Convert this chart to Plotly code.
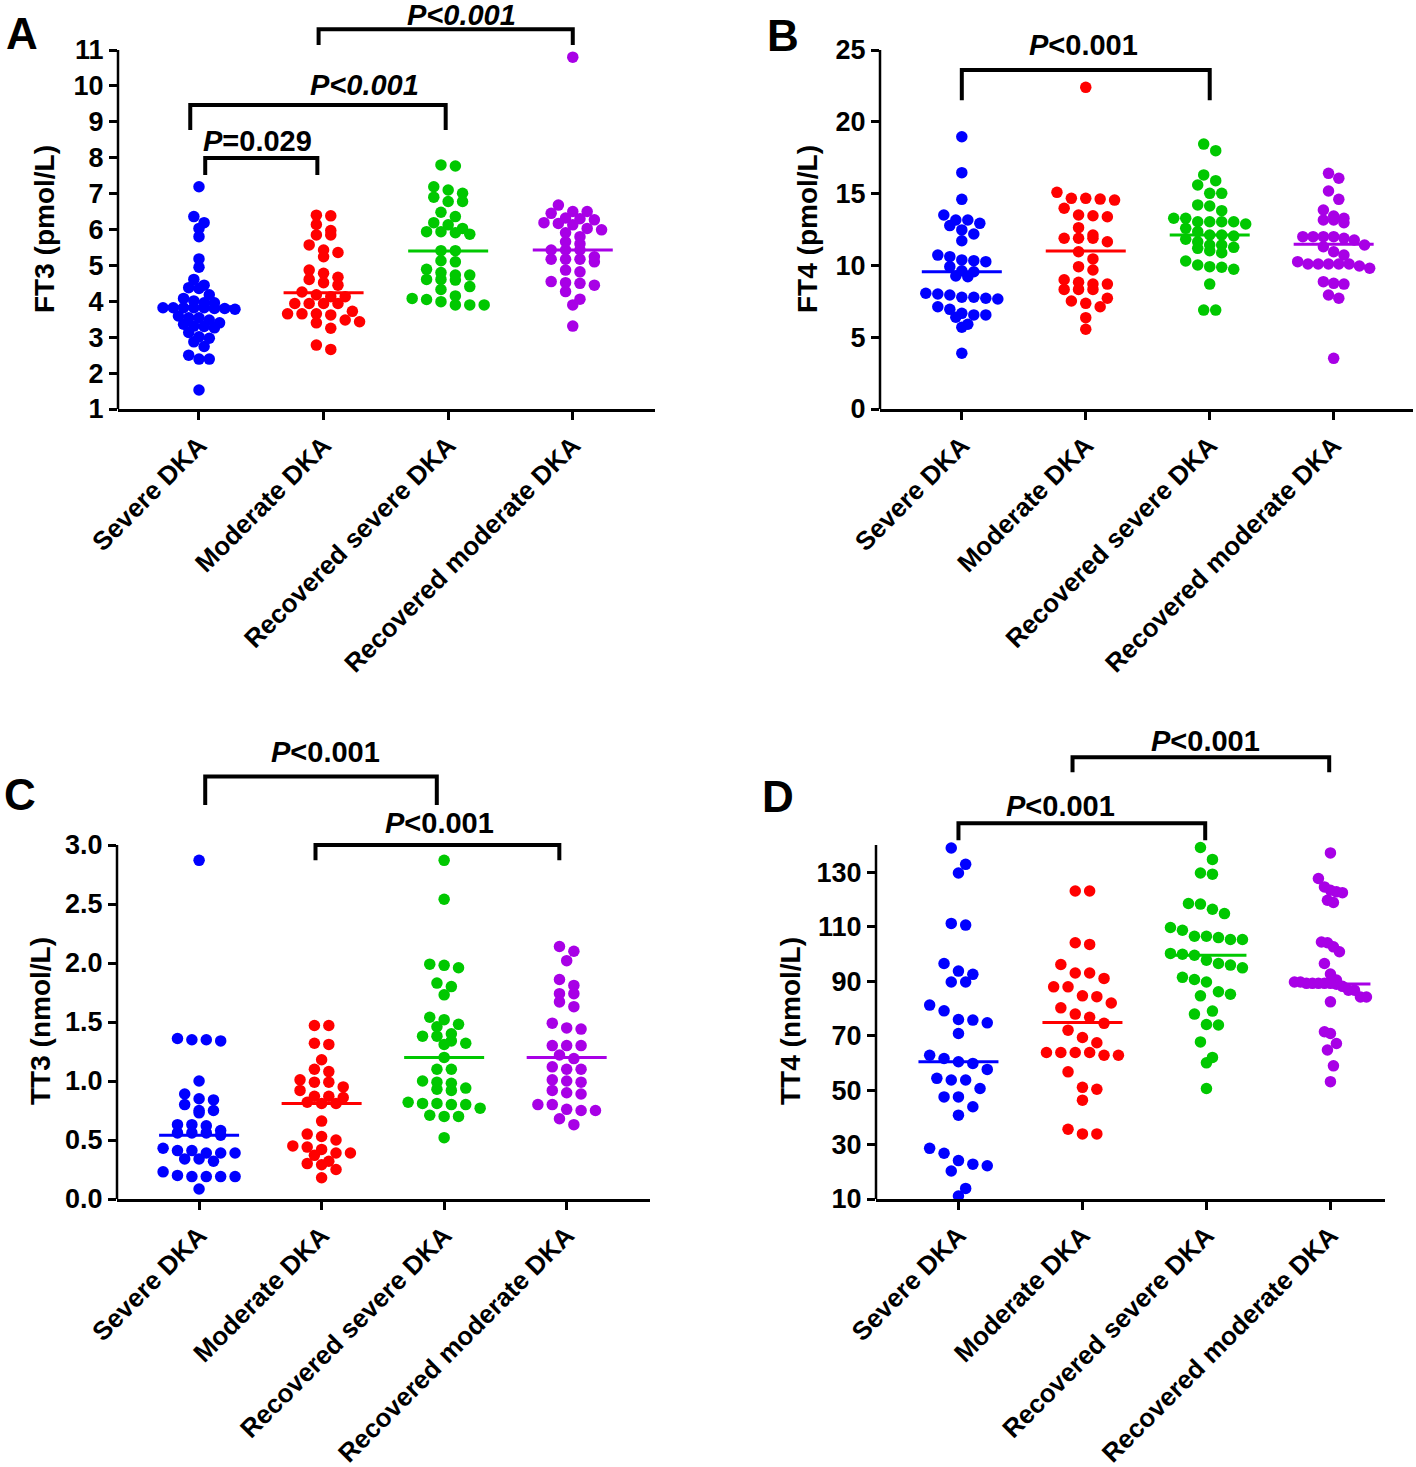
import numpy as np
import plotly.graph_objects as go

W, H = 1416, 1467
FONT = "Arial, Liberation Sans, sans-serif"

groups = ["Severe DKA", "Moderate DKA", "Recovered severe DKA", "Recovered moderate DKA"]
colors = ["#0000FF", "#FF0000", "#00C800", "#A800E6"]

# A: FT3 (pmol/L)
ft3_severe = [7.19, 6.36, 6.19, 6.03, 5.80, 5.18, 4.95, 4.61, 4.45, 4.38, 4.36, 4.18, 4.08, 4.01,
              3.96, 3.96, 3.82, 3.82, 3.80, 3.82, 3.82, 3.78, 3.80, 3.82, 3.59, 3.54, 3.54, 3.48,
              3.40, 3.30, 3.26, 3.31, 3.36, 3.13, 2.97, 3.01, 2.87, 2.74, 2.50, 2.39, 2.39, 1.53]
ft3_moderate = [6.40, 6.38, 6.14, 5.97, 5.85, 5.85, 5.57, 5.43, 5.36, 5.24, 4.87, 4.78, 4.67, 4.61,
                4.52, 4.45, 4.26, 4.18, 4.13, 4.13, 3.94, 3.94, 3.94, 3.94, 3.72, 3.65, 3.65, 3.62,
                3.65, 3.48, 3.43, 3.40, 3.25, 2.78, 2.66]
ft3_rec_severe = [7.80, 7.77, 7.19, 7.10, 7.01, 6.90, 6.78, 6.78, 6.48, 6.36, 6.19, 6.13, 6.03, 5.94,
                  5.94, 5.91, 5.87, 5.41, 5.41, 5.13, 5.10, 4.89, 4.80, 4.73, 4.73, 4.61, 4.61, 4.59,
                  4.41, 4.33, 4.15, 4.08, 4.05, 3.99, 3.90, 3.90, 3.90]
ft3_rec_moderate = [10.80, 6.68, 6.50, 6.50, 6.45, 6.32, 6.30, 6.27, 6.19, 6.17, 6.13, 5.99, 6.03,
                    5.91, 5.80, 5.66, 5.60, 5.43, 5.43, 5.43, 5.17, 5.10, 5.17, 5.17, 5.24, 4.82,
                    4.87, 4.52, 4.55, 4.45, 4.50, 4.27, 4.06, 3.90, 3.31]
ft3_median = [3.85, 4.24, 5.40, 5.43]
ft3_ticks = [1, 2, 3, 4, 5, 6, 7, 8, 9, 10, 11]
ft3_p = ["<i>P</i>=0.029", "<i>P&lt;0.001</i>", "<i>P&lt;0.001</i>"]

# B: FT4 (pmol/L)
ft4_severe = [18.96, 16.46, 14.60, 13.51, 13.16, 13.16, 12.93, 12.77, 12.47, 12.19, 11.72, 10.72,
              10.61, 10.38, 10.33, 10.26, 9.91, 9.63, 9.56, 9.26, 9.21, 8.06, 8.01, 7.94, 7.78,
              7.78, 7.71, 7.66, 7.12, 6.94, 6.66, 6.55, 6.55, 6.39, 5.90, 5.69, 3.88]
ft4_moderate = [22.40, 15.09, 14.67, 14.62, 14.67, 14.55, 13.98, 13.46, 13.39, 13.51, 12.63, 11.89,
                11.65, 11.89, 11.89, 12.12, 10.95, 10.45, 9.91, 9.68, 8.70, 8.33, 8.33, 8.82, 8.70,
                8.33, 9.00, 7.52, 7.71, 7.36, 7.12, 6.36, 5.55]
ft4_rec_severe = [18.45, 17.99, 16.30, 15.90, 15.60, 15.02, 15.02, 14.21, 14.14, 13.81, 13.28, 13.04,
                  12.88, 13.04, 13.04, 13.04, 13.28, 12.35, 12.12, 12.05, 12.12, 12.58, 11.82, 11.42,
                  11.65, 11.42, 10.88, 11.02, 11.19, 11.26, 9.91, 10.03, 9.73, 9.87, 10.31, 8.70,
                  6.89, 6.89]
ft4_rec_moderate = [16.41, 16.07, 15.18, 14.60, 13.86, 13.28, 13.16, 13.44, 12.97, 13.16, 12.00,
                    12.00, 11.89, 11.77, 12.00, 12.00, 11.30, 11.42, 10.72, 10.95, 10.10, 10.10,
                    9.96, 10.10, 10.10, 10.10, 10.26, 9.80, 8.75, 8.70, 8.87, 7.94, 7.71, 3.53]
ft4_median = [9.56, 11.00, 12.12, 11.47]
ft4_ticks = [0, 5, 10, 15, 20, 25]
ft4_p = ["<i>P</i>&lt;0.001"]

# C: TT3 (nmol/L)
tt3_severe = [2.87, 1.35, 1.36, 1.34, 1.35, 1.00, 0.84, 0.85, 0.89, 0.80, 0.75, 0.73, 0.75, 0.63,
              0.63, 0.62, 0.56, 0.56, 0.58, 0.56, 0.54, 0.39, 0.39, 0.43, 0.41, 0.39, 0.41, 0.34,
              0.32, 0.34, 0.23, 0.19, 0.20, 0.19, 0.19, 0.19, 0.085]
tt3_moderate = [1.47, 1.47, 1.31, 1.32, 1.18, 1.10, 1.08, 0.99, 1.01, 0.95, 0.99, 0.92, 0.87, 0.87,
                0.86, 0.82, 0.81, 0.81, 0.66, 0.53, 0.55, 0.50, 0.44, 0.42, 0.45, 0.39, 0.37, 0.39,
                0.29, 0.32, 0.25, 0.30, 0.18]
tt3_rec_severe = [2.87, 2.54, 1.99, 1.98, 1.96, 1.80, 1.83, 1.73, 1.54, 1.52, 1.46, 1.48, 1.40, 1.38,
                  1.38, 1.32, 1.34, 1.31, 1.20, 1.10, 1.10, 1.00, 0.92, 0.93, 0.94, 0.98, 0.99, 0.82,
                  0.77, 0.80, 0.80, 0.81, 0.81, 0.70, 0.71, 0.70, 0.52]
tt3_rec_moderate = [2.14, 2.10, 2.02, 1.86, 1.81, 1.74, 1.74, 1.67, 1.63, 1.49, 1.44, 1.45, 1.30,
                    1.30, 1.30, 1.22, 1.19, 1.12, 1.10, 1.10, 1.00, 1.01, 0.99, 0.92, 0.89, 0.90,
                    0.80, 0.76, 0.80, 0.75, 0.75, 0.68, 0.63]
tt3_median = [0.54, 0.81, 1.20, 1.20]
tt3_ticks = [0.0, 0.5, 1.0, 1.5, 2.0, 2.5, 3.0]
tt3_p = ["<i>P</i>&lt;0.001", "<i>P</i>&lt;0.001"]

# D: TT4 (nmol/L)
tt4_severe = [138.9, 132.9, 129.7, 111.2, 110.6, 96.5, 89.7, 93.7, 89.7, 92.5, 81.2, 79.1, 75.7,
              74.7, 75.9, 70.8, 60.4, 61.6, 59.8, 62.8, 57.6, 53.7, 53.7, 54.3, 50.6, 47.5, 43.9,
              47.5, 40.8, 26.8, 28.6, 22.8, 20.3, 22.2, 24.1, 13.9, 11.1]
tt4_moderate = [123.1, 123.1, 103.5, 104.1, 96.1, 93.0, 93.0, 91.0, 87.9, 87.9, 84.6, 84.3, 80.2,
                82.0, 77.9, 74.5, 76.7, 72.0, 69.3, 67.4, 63.8, 62.8, 63.8, 63.8, 62.8, 63.8, 56.7,
                50.3, 51.0, 46.3, 33.9, 35.6, 33.9]
tt4_rec_severe = [139.1, 134.7, 129.3, 129.7, 118.5, 116.4, 114.8, 118.3, 109.7, 108.7, 106.5, 106.0,
                  105.3, 105.3, 106.5, 99.5, 99.9, 100.2, 97.7, 95.9, 96.5, 94.9, 90.6, 91.4, 89.7,
                  86.1, 85.2, 84.6, 79.0, 77.9, 73.9, 74.1, 67.7, 62.0, 60.0, 50.6]
tt4_rec_moderate = [137.1, 127.7, 124.6, 123.4, 122.8, 122.5, 119.7, 118.9, 104.1, 104.4, 100.8,
                    102.6, 96.5, 92.6, 89.2, 89.7, 89.2, 90.4, 89.2, 89.2, 88.9, 89.2, 89.7, 88.1,
                    86.7, 84.2, 82.4, 84.2, 86.7, 70.8, 71.4, 67.1, 64.7, 58.9, 53.1]
tt4_median = [60.4, 74.8, 99.5, 89.0]
tt4_ticks = [10, 30, 50, 70, 90, 110, 130]
tt4_p = ["<i>P</i>&lt;0.001", "<i>P</i>&lt;0.001"]


def swarm(vals, ppx, ppy, rowh, span=72.0, maxgap=14.4):
    # GraphPad-like scatter: values close in height share a row, spread symmetrically
    vals = np.asarray(vals, float)
    order = np.argsort(-vals, kind="stable")
    rows, cur = [], [order[0]]
    for i in order[1:]:
        if (vals[cur[0]] - vals[i]) * ppy < rowh:
            cur.append(i)
        else:
            rows.append(cur)
            cur = [i]
    rows.append(cur)
    maxn = max(len(r) for r in rows)
    gap = maxgap if maxn < 2 else min(maxgap, span / (maxn - 1))
    off = np.zeros(len(vals))
    for r in rows:
        n = len(r)
        for j, i in enumerate(r):
            off[i] = (j - (n - 1) / 2) * gap / ppx
    return off


panels = [
    dict(letter="A", data=[ft3_severe, ft3_moderate, ft3_rec_severe, ft3_rec_moderate],
         med=ft3_median, title="FT3 (pmol/L)", ticks=ft3_ticks, fmt="{:d}", p=ft3_p,
         px=(118, 655), py=(409, 50), ax=(1, 11), top=12.3, xr=(-0.65, 3.66), rowh=8,
         letter_xy=(22, 33), title_xy=(45, 229),
         brackets=[((0.05, 0.95), (7.52, 7.99), (0.47, 8.47)),
                   ((-0.07, 1.98), (8.77, 9.47), (1.33, 10.03)),
                   ((0.96, 3.0), (11.14, 11.58), (2.11, 11.98))]),
    dict(letter="B", data=[ft4_severe, ft4_moderate, ft4_rec_severe, ft4_rec_moderate],
         med=ft4_median, title="FT4 (pmol/L)", ticks=ft4_ticks, fmt="{:d}", p=ft4_p,
         px=(880, 1413), py=(409, 50), ax=(0, 25), top=27.0, xr=(-0.66, 3.64), rowh=9,
         letter_xy=(783, 36), title_xy=(808, 229),
         brackets=[((0.0, 2.0), (21.5, 23.6), (0.98, 25.35))]),
    dict(letter="C", data=[tt3_severe, tt3_moderate, tt3_rec_severe, tt3_rec_moderate],
         med=tt3_median, title="TT3 (nmol/L)", ticks=tt3_ticks, fmt="{:.1f}", p=tt3_p,
         px=(117, 650), py=(1199, 845), ax=(0, 3.0), top=3.95, xr=(-0.67, 3.68), rowh=8,
         letter_xy=(20, 794), title_xy=(40, 1021),
         brackets=[((0.05, 1.94), (3.34, 3.58), (1.03, 3.79)),
                   ((0.95, 2.94), (2.87, 3.0), (1.96, 3.19))]),
    dict(letter="D", data=[tt4_severe, tt4_moderate, tt4_rec_severe, tt4_rec_moderate],
         med=tt4_median, title="TT4 (nmol/L)", ticks=tt4_ticks, fmt="{:d}", p=tt4_p,
         px=(876, 1385), py=(1199, 845), ax=(10, 140), top=185, xr=(-0.665, 3.44), rowh=18,
         letter_xy=(778, 796), title_xy=(790, 1021),
         brackets=[((0.0, 1.99), (141.7, 148.0), (0.82, 154.2)),
                   ((0.92, 2.99), (166.7, 172.2), (1.99, 178.1))]),
]

fig = go.Figure()
shapes, annotations = [], []
tickfont = dict(family=FONT, size=27, color="black", weight="bold")
catfont = dict(family=FONT, size=26, color="black", weight="bold")

for k, p in enumerate(panels):
    n = "" if k == 0 else str(k + 1)
    xid, yid = "x" + n, "y" + n
    ppy = (p["py"][0] - p["py"][1]) / (p["ax"][1] - p["ax"][0])
    top_px = p["py"][0] - (p["top"] - p["ax"][0]) * ppy
    ppx = (p["px"][1] - p["px"][0]) / (p["xr"][1] - p["xr"][0])
    xdom = [p["px"][0] / W, p["px"][1] / W]
    ydom = [1 - p["py"][0] / H, 1 - top_px / H]

    for i, vals in enumerate(p["data"]):
        off = swarm(vals, ppx, ppy, p["rowh"])
        fig.add_trace(go.Scatter(
            x=i + off, y=vals, mode="markers", xaxis=xid, yaxis=yid, showlegend=False,
            marker=dict(size=11.5, color=colors[i], line=dict(width=0)), cliponaxis=False))
        hw = 40 / ppx
        fig.add_trace(go.Scatter(
            x=[i - hw, i + hw], y=[p["med"][i]] * 2, mode="lines", xaxis=xid, yaxis=yid,
            showlegend=False, line=dict(color=colors[i], width=3)))

    fig.layout["xaxis" + n] = dict(
        domain=xdom, range=list(p["xr"]), anchor=yid, tickmode="array", tickvals=[0, 1, 2, 3],
        ticktext=groups, tickangle=-45, ticks="outside", ticklen=8, tickwidth=2.5,
        tickcolor="black", showline=True, linecolor="black", linewidth=2.5, showgrid=False,
        zeroline=False, tickfont=catfont, automargin=False)
    fig.layout["yaxis" + n] = dict(
        domain=ydom, range=[p["ax"][0], p["top"]], anchor=xid, tickmode="array",
        tickvals=p["ticks"], ticktext=[p["fmt"].format(t) for t in p["ticks"]],
        ticks="outside", ticklen=8, tickwidth=2.5, tickcolor="black", showline=False,
        showgrid=False, zeroline=False, tickfont=tickfont, automargin=False)

    # y axis line only up to the last tick
    shapes.append(dict(type="line", xref=xid + " domain", yref=yid + " domain", x0=0, x1=0,
                       y0=0, y1=(p["ax"][1] - p["ax"][0]) / (p["top"] - p["ax"][0]),
                       line=dict(color="black", width=2.5)))

    for (a, b), (lo, hi), (tx, ty) in p["brackets"]:
        shapes.append(dict(type="path", xref=xid, yref=yid,
                           path=f"M {a},{lo} L {a},{hi} L {b},{hi} L {b},{lo}",
                           line=dict(color="black", width=4)))
    for ((a, b), (lo, hi), (tx, ty)), txt in zip(p["brackets"], p["p"]):
        annotations.append(dict(x=tx, y=ty, xref=xid, yref=yid, text=txt, showarrow=False,
                                xanchor="center", yanchor="middle",
                                font=dict(family=FONT, size=29, color="black", weight="bold")))

    annotations.append(dict(x=p["letter_xy"][0] / W, y=1 - p["letter_xy"][1] / H, xref="paper",
                            yref="paper", text=p["letter"], showarrow=False, xanchor="center",
                            yanchor="middle",
                            font=dict(family=FONT, size=44, color="black", weight="bold")))
    annotations.append(dict(x=p["title_xy"][0] / W, y=1 - p["title_xy"][1] / H, xref="paper",
                            yref="paper", text=p["title"], showarrow=False, textangle=-90,
                            xanchor="center", yanchor="middle",
                            font=dict(family=FONT, size=28, color="black", weight="bold")))

fig.update_layout(
    width=W, height=H, margin=dict(l=0, r=0, t=0, b=0, autoexpand=False),
    paper_bgcolor="white", plot_bgcolor="white",
    shapes=shapes, annotations=annotations, showlegend=False,
)

fig.write_html("out.html", post_script="document.body.style.margin='0';",
               config={"displayModeBar": False})
